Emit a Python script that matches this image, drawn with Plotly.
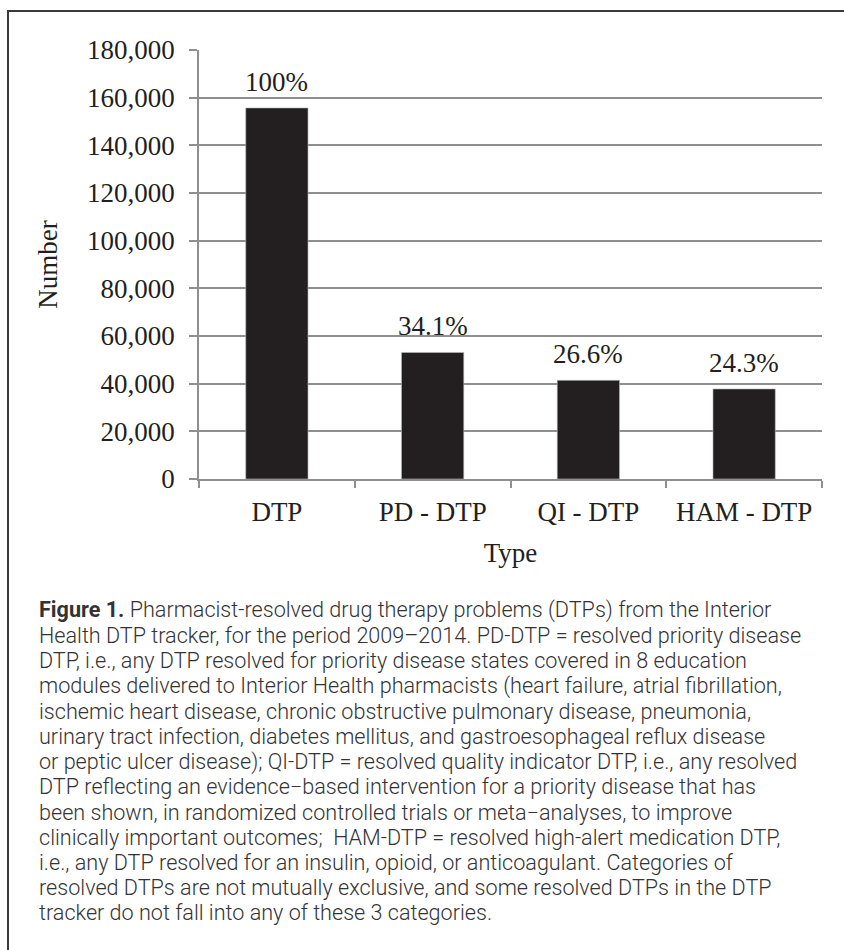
import plotly.graph_objects as go

# ---------------- data ----------------
categories = ["DTP", "PD - DTP", "QI - DTP", "HAM - DTP"]
counts = [155700, 53100, 41400, 37800]
pct_labels = ["100%", "34.1%", "26.6%", "24.3%"]
y_tick_vals = [0, 20000, 40000, 60000, 80000, 100000, 120000, 140000, 160000, 180000]
y_tick_text = ["0", "20,000", "40,000", "60,000", "80,000", "100,000",
               "120,000", "140,000", "160,000", "180,000"]

caption_lines = [
    "<b>Figure 1.</b> Pharmacist-resolved drug therapy problems (DTPs) from the Interior",
    "Health DTP tracker, for the period 2009–2014. PD-DTP = resolved priority disease",
    "DTP, i.e., any DTP resolved for priority disease states covered in 8 education",
    "modules delivered to Interior Health pharmacists (heart failure, atrial fibrillation,",
    "ischemic heart disease, chronic obstructive pulmonary disease, pneumonia,",
    "urinary tract infection, diabetes mellitus, and gastroesophageal reflux disease",
    "or peptic ulcer disease); QI-DTP = resolved quality indicator DTP, i.e., any resolved",
    "DTP reflecting an evidence−based intervention for a priority disease that has",
    "been shown, in randomized controlled trials or meta−analyses, to improve",
    "clinically important outcomes;&nbsp; HAM-DTP = resolved high-alert medication DTP,",
    "i.e., any DTP resolved for an insulin, opioid, or anticoagulant. Categories of",
    "resolved DTPs are not mutually exclusive, and some resolved DTPs in the DTP",
    "tracker do not fall into any of these 3 categories.",
]

# ---------------- layout constants ----------------
W, H = 844, 950
L, R, T, B = 199, 22, 50, 471
PW, PH = W - L - R, H - T - B
SERIF = "Liberation Serif, Times New Roman, serif"
CAPFONT = "Roboto, Lato, sans-serif"
INK = "#231f20"
GRID = "#8f8f8f"


def px_to_paper_x(px):
    return (px - L) / PW


def px_to_paper_y(py):
    return (H - B - py) / PH


fig = go.Figure()
fig.add_trace(go.Bar(
    x=categories, y=counts,
    marker=dict(color=INK, line=dict(color="#bdbdbd", width=0.6)),
    width=0.4,
    hoverinfo="skip",
))

annotations = []
for c, v, t in zip(categories, counts, pct_labels):
    annotations.append(dict(
        x=c, y=v, xref="x", yref="y", text=t, showarrow=False,
        yanchor="middle", yshift=26,
        font=dict(family=SERIF, size=27, color=INK),
    ))

# caption lines
y0, dy = 610, 25.25
for i, line in enumerate(caption_lines):
    annotations.append(dict(
        x=px_to_paper_x(37), y=px_to_paper_y(y0 + i * dy),
        xref="paper", yref="paper", xanchor="left", yanchor="middle",
        text=line, showarrow=False, align="left",
        font=dict(family=CAPFONT, size=21.6, color="#333333", weight=300),
    ))

shapes = [dict(
    type="rect", xref="paper", yref="paper",
    x0=px_to_paper_x(8), x1=px_to_paper_x(900),
    y0=px_to_paper_y(1000), y1=px_to_paper_y(11),
    line=dict(color="#3a3a3a", width=2), fillcolor="rgba(0,0,0,0)", layer="below",
)]

fig.update_layout(
    width=W, height=H,
    margin=dict(l=L, r=R, t=T, b=B),
    paper_bgcolor="white", plot_bgcolor="white",
    showlegend=False,
    annotations=annotations,
    shapes=shapes,
    bargap=0.6,
)

fig.update_xaxes(
    type="category",
    tickson="boundaries",
    ticks="outside", ticklen=7, tickcolor=GRID, tickwidth=1.5,
    showline=True, linecolor=GRID, linewidth=1.5,
    showgrid=False,
    ticklabelstandoff=8,
    tickfont=dict(family=SERIF, size=27, color=INK),
    title=dict(text="Type", font=dict(family=SERIF, size=27, color=INK), standoff=17),
)

fig.update_yaxes(
    range=[0, 180000],
    tickvals=y_tick_vals, ticktext=y_tick_text,
    ticks="outside", ticklen=8, tickcolor=GRID, tickwidth=1.5,
    showline=True, linecolor=GRID, linewidth=1.5,
    showgrid=True, gridcolor=GRID, gridwidth=1.5,
    zeroline=False,
    ticklabelstandoff=9,
    tickfont=dict(family=SERIF, size=27, color=INK),
    title=dict(text="Number", font=dict(family=SERIF, size=27, color=INK), standoff=22),
)

fig.write_html("out.html", config={"displayModeBar": False},
               post_script="document.body.style.margin='0';")
